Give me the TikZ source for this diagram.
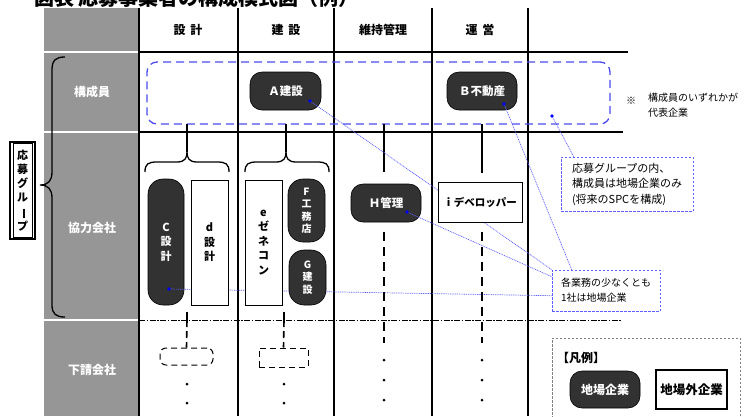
\documentclass[tikz,border=0pt]{standalone}
\usepackage{fontspec}
\setmainfont{Noto Sans CJK JP}
\usetikzlibrary{calc}
\definecolor{grayhd}{RGB}{150,150,150}
\definecolor{darkbox}{RGB}{50,50,50}
\definecolor{grpblue}{RGB}{75,75,240}
\definecolor{lineblue}{RGB}{95,95,255}
\definecolor{dotblue}{RGB}{0,0,255}
\begin{document}
\begin{tikzpicture}[x=1pt,y=-1pt,
  hdr/.style={font=\fontsize{12}{14}\selectfont\bfseries},
  rowlab/.style={text=white,font=\fontsize{12}{14}\selectfont\bfseries},
  darkh/.style={fill=darkbox,draw=black,line width=0.6pt,rounded corners=12pt,text=white,
    font=\fontsize{11.5}{14}\selectfont\bfseries,inner sep=0pt},
  darkv/.style={darkh,rounded corners=15pt,align=center,font=\fontsize{11}{14.5}\selectfont\bfseries},
  whiteh/.style={fill=white,draw=black,line width=0.8pt,font=\fontsize{11}{14}\selectfont\bfseries,inner sep=0pt},
  whitev/.style={whiteh,align=center,font=\fontsize{11}{14.5}\selectfont\bfseries},
  bdot/.style={circle,fill=dotblue,inner sep=0pt,minimum size=3.8pt},
  bline/.style={draw=lineblue,line width=0.7pt,dash pattern=on 1pt off 0.8pt},
  note/.style={draw=lineblue,dash pattern=on 2.5pt off 1.5pt,line width=0.6pt,fill=white,
    align=left,inner sep=0pt,font=\fontsize{10.5}{15.5}\selectfont},
  vline/.style={line width=2.2pt},
  vdash/.style={line width=2.2pt,dash pattern=on 9pt off 6pt},
  sdash/.style={line width=1.6pt,dash pattern=on 7pt off 4pt},
  kdot/.style={circle,fill=black,inner sep=0pt,minimum size=3pt},
  brace/.style={line width=1.3pt}
]
\useasboundingbox (0,0) rectangle (751,416);
\clip (0,0) rectangle (751,416);

% title (cut at top)
\node[anchor=base west,inner sep=0pt,font=\fontsize{20}{24}\selectfont\bfseries] (title) at (34,5.5) {図表 応募事業者の構成模式図（例）};

% gray label column
\fill[grayhd] (44,8) rectangle (138.5,416);
\draw[white,line width=1.2pt] (44,52) -- (138,52);
\draw[white,line width=1.2pt] (44,132) -- (138,132);
\draw[white,line width=1.2pt] (44,320) -- (138,320);

% horizontal grid lines
\draw[line width=1.2pt] (139,52) -- (628,52);
\draw[line width=2pt] (139,132) -- (623,132);
\draw[line width=1pt,dash pattern=on 6pt off 1.5pt on 1.5pt off 1.5pt] (139,320) -- (622,320);

% vertical grid lines
\foreach \xx in {139,238,334,432,528} \draw[vline] (\xx,8) -- (\xx,416);

% column headers
\node[hdr] (h1) at (188,30) {設\hspace{0.4em}計};
\node[hdr] (h2) at (286,30) {建\hspace{0.4em}設};
\node[hdr] (h3) at (383,30) {維持管理};
\node[hdr] (h4) at (480,30) {運\hspace{0.4em}営};

% row labels
\node[rowlab] (r1) at (92,92) {構成員};
\node[rowlab] (r2) at (92,228) {協力会社};
\node[rowlab] (r3) at (92,370) {下請会社};

% big brace and group label
\draw[brace] (65,57) .. controls (56,57) and (52,60) .. (52,70) -- (52,172)
  .. controls (52,181) and (48,185) .. (40,185)
  .. controls (48,185) and (52,189) .. (52,198) -- (52,305)
  .. controls (52,314) and (56,317) .. (65,317);
\node[draw,fill=white,line width=2pt,minimum width=25pt,minimum height=97pt,inner sep=0pt,
  align=center,font=\fontsize{11}{14.3}\selectfont\bfseries] (grpl) at (22.5,190.5)
  {応\\募\\グ\\ル\\\rotatebox[origin=c]{-90}{ー}\\プ};
\draw[line width=0.6pt] (13,143.5) rectangle (32,237.5);

% dashed group of members
\node[draw=grpblue,line width=1.3pt,dash pattern=on 8pt off 5pt,rounded corners=10pt,
  minimum width=463pt,minimum height=62pt,inner sep=0pt] (grp) at (378.5,93) {};

% connectors from group
\draw[line width=2pt] (187,124) -- (187,152);
\draw[line width=2pt] (286,124) -- (286,152);
\draw[line width=2pt] (384,124) -- (384,172);
\draw[line width=2pt] (482,124) -- (482,173);
\draw[brace] (145,172) .. controls (145,164) and (148,162) .. (157,162) -- (177,162)
  .. controls (185,162) and (187,158) .. (187,152)
  .. controls (187,158) and (189,162) .. (197,162) -- (217,162)
  .. controls (226,162) and (229,164) .. (229,172);
\draw[brace] (245,172) .. controls (245,164) and (248,162) .. (257,162) -- (276,162)
  .. controls (284,162) and (286,158) .. (286,152)
  .. controls (286,158) and (288,162) .. (296,162) -- (317,162)
  .. controls (326,162) and (329,164) .. (329,172);

% dark boxes (behind lines)
\node[darkh,minimum width=71pt,minimum height=38pt] (A) at (285.5,91) {Ａ建設};
\node[darkh,minimum width=70pt,minimum height=38pt] (B) at (482,91) {Ｂ不動産};
\node[darkv,minimum width=36pt,minimum height=126pt] (C) at (166,242) {C\\設\\計};
\node[darkh,minimum width=70pt,minimum height=38pt] (H) at (386,203) {Ｈ管理};

% notes
\node[note,minimum width=132pt,minimum height=54pt,font=\fontsize{11}{15.5}\selectfont] (n1) at (627,184)
  {応募グループの内、\\構成員は地場企業のみ\\(将来のSPCを構成)};
\node[note,minimum width=108pt,minimum height=41pt,font=\fontsize{10}{15}\selectfont] (n2) at (606,290.5)
  {各業務の少なくとも\\1社は地場企業};

% blue dots positions
\coordinate (dA) at (310,101);
\coordinate (dB) at (504,104);
\coordinate (dG) at (552,116);
\coordinate (dC) at (169,289);
\coordinate (dH) at (407,212);

% dotted leader lines
\draw[bline] (dA) -- (n2.north west);
\draw[bline] (dB) -- ($(n2.north west)+(20,0)$);
\draw[bline] (dG) -- ($(n1.north west)+(13,0)$);
\draw[bline] (dH) -- ($(n2.north west)+(0,7)$);
\draw[bline] (dC) -- ($(n2.north west)+(0,26)$);

% white and other boxes over the lines
\node[whitev,minimum width=37pt,minimum height=125pt] (d) at (209.5,242.5) {d\\設\\計};
\node[whitev,minimum width=37pt,minimum height=125pt] (e) at (263.5,242.5) {e\\ゼ\\ネ\\コ\\ン};
\node[darkv,minimum width=37pt,minimum height=63pt,font=\fontsize{10}{12.5}\selectfont\bfseries] (F) at (306.5,210.5) {F\\工\\務\\店};
\node[darkv,minimum width=37pt,minimum height=55pt,font=\fontsize{10}{12.5}\selectfont\bfseries] (G) at (307.5,277.5) {G\\建\\設};
\node[whiteh,minimum width=84pt,minimum height=40pt,font=\fontsize{10.5}{14}\selectfont\bfseries] (i) at (480,202) {ｉデベロッパー};

% dots
\foreach \p in {dA,dB,dG,dC,dH} \node[bdot] at (\p) {};

% note on representative
\node[font=\fontsize{10}{15}\selectfont] (kome) at (631,101) {※};
\node[anchor=north west,inner sep=0pt,align=left,font=\fontsize{10}{15}\selectfont] (rep) at (648,93) {構成員のいずれかが\\代表企業};

% lower part dashed lines (maintenance & operation)
\draw[vdash] (384,232) -- (384,343);
\draw[vdash] (482,232) -- (482,343);
\foreach \yy in {360,380,400} {\node[kdot] at (384,\yy) {}; \node[kdot] at (482,\yy) {};}

% subcontractors for design and construction
\draw[line width=1.6pt] (187,312) -- (187,320);
\draw[line width=1.6pt] (284,312) -- (284,320);
\node[draw,line width=1pt,dash pattern=on 6pt off 4pt,rounded corners=6pt,minimum width=53pt,minimum height=17pt,inner sep=0pt] (sc1) at (186.5,356.5) {};
\node[draw,line width=1pt,dash pattern=on 6pt off 4pt,minimum width=49pt,minimum height=19pt,inner sep=0pt] (sc2) at (283.5,357.5) {};
\draw[sdash] (187,320) -- (sc1.north);
\draw[sdash] (284,320) -- (sc2.north);
\foreach \yy in {384,403} {\node[kdot] at (187,\yy) {}; \node[kdot] at (284,\yy) {};}

% legend
\node[draw=gray,line width=0.6pt,dash pattern=on 2.5pt off 1.5pt,anchor=north west,minimum width=188pt,minimum height=82pt,inner sep=0pt] (leg) at (552,338) {};
\node[anchor=west,inner sep=0pt,font=\fontsize{12}{14}\selectfont\bfseries] (legt) at (557,358) {【凡例】};
\node[darkh,minimum width=70pt,minimum height=37pt,font=\fontsize{12}{14}\selectfont\bfseries] (L1) at (605,389.5) {地場企業};
\node[whiteh,line width=1.2pt,minimum width=71pt,minimum height=39pt,font=\fontsize{12.5}{14}\selectfont\bfseries] (L2) at (691.5,389.5) {地場外企業};
\end{tikzpicture}
\end{document}
